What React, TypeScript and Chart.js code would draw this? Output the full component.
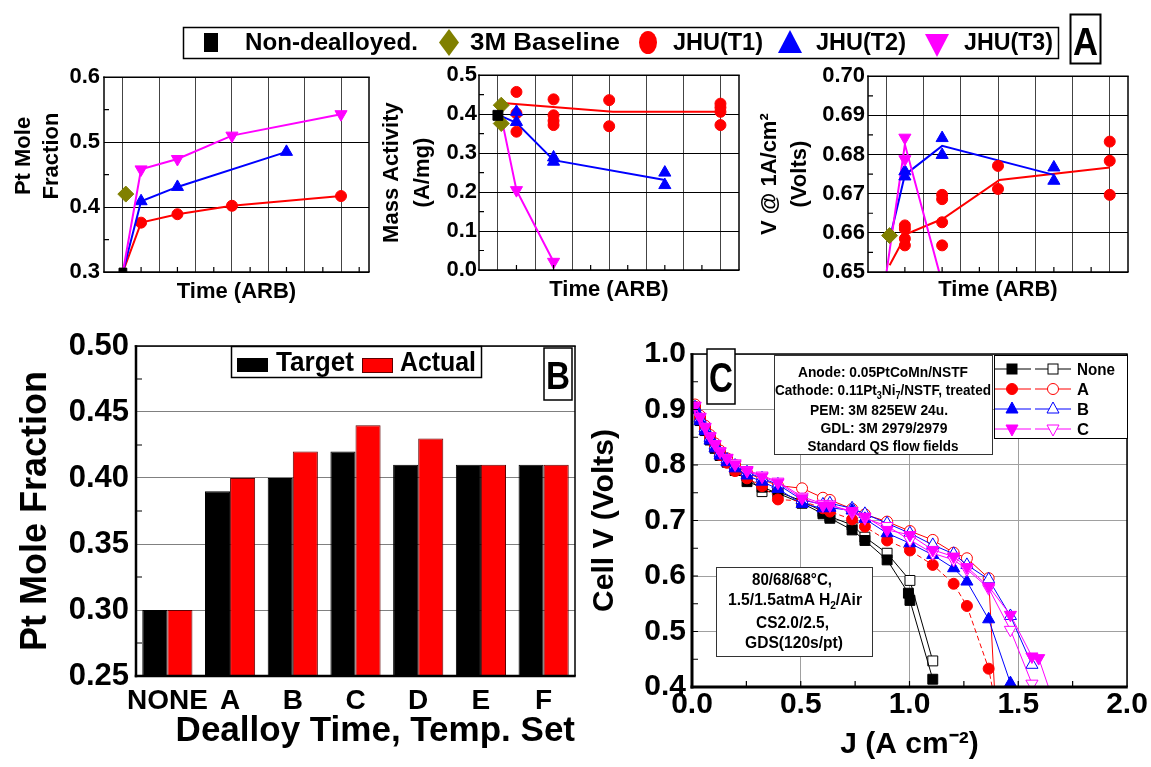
import React, { useEffect, useRef } from 'react';
import { Chart, registerables } from 'chart.js';

Chart.register(...registerables);

const FONT = '"Liberation Sans", Arial, Helvetica, sans-serif';
Chart.defaults.color = '#000';
Chart.defaults.font.family = FONT;

const RED = '#ff0000';
const BLUE = '#0000ff';
const MAGENTA = '#ff00ff';
const OLIVE = '#808000';
const BLACK = '#000000';

// ---------- Panel A, left: Pt mole fraction vs dealloy time ----------
const fracNonX = [0];
const fracNonY = [0.3];
const frac3MX = [0.08];
const frac3MY = [0.42];
const fracT1X = [0, 0.5, 1.5, 3, 6];
const fracT1Y = [0.3, 0.376, 0.389, 0.402, 0.417];
const fracT2X = [0, 0.5, 1.5, 4.5];
const fracT2Y = [0.3, 0.409, 0.431, 0.485];
const fracT3X = [0, 0.5, 1.5, 3, 6];
const fracT3Y = [0.3, 0.458, 0.474, 0.51, 0.543];

// ---------- Panel A, middle: mass activity ----------
const maNonX = [0];
const maNonY = [0.397];
const ma3MX = [0.09, 0.09];
const ma3MY = [0.423, 0.376];
const maT1X = [0.5, 0.5, 0.5, 1.5, 1.5, 1.5, 1.5, 3, 3, 6, 6, 6, 6];
const maT1Y = [0.457, 0.402, 0.355, 0.438, 0.397, 0.383, 0.372, 0.436, 0.369, 0.427, 0.417, 0.406, 0.372];
const maT1LineX = [0.04, 3.1, 6];
const maT1LineY = [0.429, 0.406, 0.406];
const maT2X = [0.5, 0.5, 1.5, 1.5, 4.5, 4.5];
const maT2Y = [0.406, 0.38, 0.289, 0.278, 0.25, 0.218];
const maT2LineX = [0.04, 0.5, 1.5, 4.5];
const maT2LineY = [0.397, 0.378, 0.282, 0.231];
const maT3X = [0.5, 1.5];
const maT3Y = [0.205, 0.021];
const maT3LineX = [0.09, 0.5, 1.5];
const maT3LineY = [0.393, 0.205, 0.021];

// ---------- Panel A, right: cell voltage at 1 A/cm2 ----------
const v3MX = [0.09];
const v3MY = [0.6593];
const vT1X = [0.5, 0.5, 0.5, 0.5, 1.5, 1.5, 1.5, 1.5, 3, 3, 6, 6, 6];
const vT1Y = [0.6619, 0.661, 0.6585, 0.6568, 0.6697, 0.6686, 0.6627, 0.6568, 0.6771, 0.6712, 0.6833, 0.6784, 0.6697];
const vT1LineX = [0.09, 0.54, 1.52, 3.04, 6];
const vT1LineY = [0.6517, 0.6597, 0.6636, 0.6735, 0.6767];
const vT2X = [0.5, 0.5, 1.5, 1.5, 4.5, 4.5];
const vT2Y = [0.6757, 0.6744, 0.6842, 0.6799, 0.6767, 0.6733];
const vT2LineX = [0.13, 0.5, 1.5, 4.5];
const vT2LineY = [0.6599, 0.6748, 0.6822, 0.6748];
const vT3X = [0.5, 0.5];
const vT3Y = [0.6843, 0.6788];
const vT3LineX = [0, 0.5, 1.5];
const vT3LineY = [0.6495, 0.6826, 0.6472];

// ---------- Panel B: target vs actual Pt mole fraction ----------
const dealloySets = ['NONE', 'A', 'B', 'C', 'D', 'E', 'F'];
const targetFrac = [0.3, 0.39, 0.4, 0.42, 0.41, 0.41, 0.41];
const actualFrac = [0.3, 0.4, 0.42, 0.44, 0.43, 0.41, 0.41];

// ---------- Panel C: polarization curves ----------
const noneFilledJ = [0.014, 0.037, 0.06, 0.083, 0.106, 0.129, 0.161, 0.198, 0.253, 0.322, 0.395, 0.506, 0.602, 0.634, 0.736, 0.795, 0.897, 0.995, 1.002, 1.107];
const noneFilledV = [0.902, 0.88, 0.862, 0.845, 0.83, 0.817, 0.805, 0.79, 0.77, 0.76, 0.749, 0.731, 0.712, 0.704, 0.683, 0.664, 0.629, 0.569, 0.556, 0.414];
const noneOpenJ = [0.014, 0.037, 0.06, 0.083, 0.106, 0.129, 0.161, 0.198, 0.253, 0.322, 0.395, 0.506, 0.602, 0.634, 0.736, 0.795, 0.897, 1.002, 1.107];
const noneOpenV = [0.904, 0.882, 0.864, 0.847, 0.833, 0.82, 0.808, 0.795, 0.78, 0.752, 0.752, 0.735, 0.716, 0.707, 0.692, 0.67, 0.641, 0.592, 0.447];
const aFilledJ = [0.014, 0.037, 0.06, 0.083, 0.106, 0.129, 0.161, 0.198, 0.253, 0.322, 0.395, 0.506, 0.602, 0.634, 0.736, 0.795, 0.897, 1.002, 1.107, 1.203, 1.264, 1.364, 1.4];
const aFilledV = [0.905, 0.884, 0.866, 0.849, 0.833, 0.818, 0.804, 0.789, 0.776, 0.762, 0.738, 0.735, 0.722, 0.716, 0.702, 0.689, 0.664, 0.646, 0.62, 0.586, 0.546, 0.433, 0.36];
const aOpenJ = [0.014, 0.037, 0.06, 0.083, 0.106, 0.129, 0.161, 0.198, 0.253, 0.322, 0.395, 0.506, 0.602, 0.634, 0.736, 0.795, 0.897, 1.002, 1.107, 1.203, 1.264, 1.364, 1.397];
const aOpenV = [0.909, 0.889, 0.871, 0.854, 0.839, 0.826, 0.812, 0.8, 0.786, 0.774, 0.763, 0.758, 0.741, 0.737, 0.721, 0.711, 0.698, 0.681, 0.665, 0.642, 0.632, 0.596, 0.35];
const bFilledJ = [0.014, 0.037, 0.06, 0.083, 0.106, 0.129, 0.161, 0.198, 0.253, 0.322, 0.395, 0.506, 0.602, 0.634, 0.736, 0.795, 0.897, 1.002, 1.107, 1.203, 1.264, 1.364, 1.464];
const bFilledV = [0.901, 0.879, 0.861, 0.844, 0.83, 0.817, 0.805, 0.794, 0.781, 0.77, 0.757, 0.73, 0.722, 0.723, 0.718, 0.703, 0.677, 0.659, 0.638, 0.614, 0.59, 0.522, 0.407];
const bOpenJ = [0.014, 0.037, 0.06, 0.083, 0.106, 0.129, 0.161, 0.198, 0.253, 0.322, 0.395, 0.506, 0.602, 0.634, 0.736, 0.795, 0.897, 1.002, 1.107, 1.203, 1.264, 1.364, 1.464, 1.563];
const bOpenV = [0.904, 0.884, 0.866, 0.849, 0.835, 0.822, 0.81, 0.799, 0.787, 0.776, 0.765, 0.737, 0.729, 0.731, 0.722, 0.712, 0.695, 0.677, 0.656, 0.64, 0.62, 0.594, 0.528, 0.44];
const cFilledJ = [0.014, 0.037, 0.06, 0.083, 0.106, 0.129, 0.161, 0.198, 0.253, 0.322, 0.395, 0.506, 0.602, 0.634, 0.736, 0.795, 0.897, 1.002, 1.107, 1.203, 1.264, 1.364, 1.464, 1.563, 1.594, 1.665];
const cFilledV = [0.906, 0.886, 0.868, 0.851, 0.837, 0.824, 0.812, 0.801, 0.789, 0.779, 0.768, 0.74, 0.727, 0.727, 0.717, 0.707, 0.683, 0.674, 0.647, 0.635, 0.616, 0.581, 0.53, 0.455, 0.452, 0.37];
const cOpenJ = [0.014, 0.037, 0.06, 0.083, 0.106, 0.129, 0.161, 0.198, 0.253, 0.322, 0.395, 0.506, 0.602, 0.634, 0.736, 0.795, 0.897, 1.002, 1.107, 1.203, 1.264, 1.364, 1.464, 1.563, 1.62];
const cOpenV = [0.907, 0.887, 0.869, 0.852, 0.838, 0.825, 0.813, 0.803, 0.791, 0.781, 0.77, 0.743, 0.73, 0.729, 0.714, 0.704, 0.69, 0.665, 0.641, 0.629, 0.612, 0.578, 0.503, 0.406, 0.33];

// ---------- helpers ----------
const pts = (xs: number[], ys: number[]) => xs.map((x, i) => ({ x, y: ys[i] }));
const fixW = (w: number) => (s: any) => { s.width = w; };
const fixH = (h: number) => (s: any) => { s.height = h; };
const setTicks = (vals: number[]) => (s: any) => { s.ticks = vals.map((v) => ({ value: v })); };
const bold = (size: number, lineHeight = 1.2) => ({ family: FONT, size, weight: 'bold' as const, lineHeight });

// Draws the plot frame and short inward tick marks.
const framePlugin = {
  id: 'frame',
  afterDatasetsDraw(chart: any, _args: any, o: any) {
    const { ctx, chartArea: a, scales } = chart;
    const len = o.tickLen ?? 5;
    ctx.save();
    ctx.strokeStyle = '#000';
    ctx.lineWidth = o.tickWidth ?? 1.2;
    ctx.beginPath();
    for (const v of o.yTicks ?? []) {
      const p = scales.y.getPixelForValue(v);
      ctx.moveTo(a.left, p);
      ctx.lineTo(a.left + len, p);
    }
    for (const v of o.xTicks ?? []) {
      const p = scales.x.getPixelForValue(v);
      ctx.moveTo(p, a.bottom);
      ctx.lineTo(p, a.bottom - len);
    }
    ctx.stroke();
    const w = { top: 1.5, right: 1.5, bottom: 1.5, left: 1.5, ...(o.sides ?? {}) };
    const edge = (lw: number, x1: number, y1: number, x2: number, y2: number) => {
      ctx.lineWidth = lw;
      ctx.beginPath();
      ctx.moveTo(x1, y1);
      ctx.lineTo(x2, y2);
      ctx.stroke();
    };
    edge(w.top, a.left - w.left / 2, a.top, a.right + w.right / 2, a.top);
    edge(w.right, a.right, a.top, a.right, a.bottom);
    edge(w.bottom, a.left - w.left / 2, a.bottom, a.right + w.right / 2, a.bottom);
    edge(w.left, a.left, a.top - w.top / 2, a.left, a.bottom + w.bottom / 2);
    ctx.restore();
  },
};

const markers = (data: any[], style: string, color: string, radius: number, rotation = 0) => ({
  data,
  showLine: false,
  pointStyle: style,
  pointRotation: rotation,
  pointRadius: radius,
  pointHoverRadius: radius,
  pointBackgroundColor: color,
  pointBorderColor: color,
  pointBorderWidth: 1,
});

const trend = (data: any[], color: string) => ({
  data,
  showLine: true,
  pointRadius: 0,
  pointHoverRadius: 0,
  borderColor: color,
  borderWidth: 2,
  fill: false,
});

// line through the points, with no marker at the shared starting point
const trendWithMarkers = (data: any[], color: string, style: string, radius: number, rotation = 0) => ({
  data,
  showLine: true,
  borderColor: color,
  borderWidth: 2,
  pointStyle: style,
  pointRotation: rotation,
  pointRadius: (c: any) => (c.dataIndex === 0 ? 0 : radius),
  pointHoverRadius: radius,
  pointBackgroundColor: color,
  pointBorderColor: color,
  pointBorderWidth: 1,
});

const halfSteps = [0.5, 1.5, 2.5, 3.5, 4.5, 5.5, 6.5];

function timeChart(p: {
  datasets: any[];
  xMin: number;
  xMax: number;
  yMin: number;
  yMax: number;
  yTicks: number[];
  yMinor: number[];
  digits: number;
  yWidth: number;
  xHeight: number;
  padTop: number;
  padRight: number;
  tickPad: number;
  title: string[] | null;
  titleLH: number;
  titlePad: number;
  xTitlePad: number;
}) {
  return {
    type: 'scatter',
    data: { datasets: p.datasets },
    options: {
      animation: false,
      responsive: false,
      devicePixelRatio: 1,
      events: [],
      layout: { padding: { top: p.padTop, right: p.padRight, left: 0, bottom: 0 } },
      plugins: {
        legend: { display: false },
        tooltip: { enabled: false },
        frame: { yTicks: p.yMinor, xTicks: halfSteps.filter((v) => v < p.xMax), tickLen: 5 },
      },
      scales: {
        x: {
          type: 'linear',
          min: p.xMin,
          max: p.xMax,
          afterBuildTicks: setTicks([0, 1, 2, 3, 4, 5, 6]),
          afterFit: fixH(p.xHeight),
          ticks: { display: false },
          border: { display: false },
          grid: { color: '#444', lineWidth: 1, drawTicks: false },
          title: {
            display: true,
            text: 'Time (ARB)',
            font: bold(22),
            color: '#000',
            padding: { top: 0, bottom: p.xTitlePad },
          },
        },
        y: {
          type: 'linear',
          min: p.yMin,
          max: p.yMax,
          afterBuildTicks: setTicks(p.yTicks),
          afterFit: fixW(p.yWidth),
          ticks: {
            font: bold(22),
            color: '#000',
            padding: p.tickPad,
            callback: (v: any) => Number(v).toFixed(p.digits),
          },
          border: { display: false },
          grid: { color: '#000', lineWidth: 1, drawTicks: false },
          title: p.title
            ? {
                display: true,
                text: p.title,
                font: bold(22, p.titleLH / 22),
                color: '#000',
                padding: { top: p.titlePad, bottom: 0 },
              }
            : { display: false },
        },
      },
    },
    plugins: [framePlugin],
  };
}

const fracConfig = () =>
  timeChart({
    datasets: [
      markers(pts(fracNonX, fracNonY), 'rect', BLACK, 5.5),
      markers(pts(frac3MX, frac3MY), 'rectRot', OLIVE, 8),
      trendWithMarkers(pts(fracT3X, fracT3Y), MAGENTA, 'triangle', 7, 180),
      trendWithMarkers(pts(fracT2X, fracT2Y), BLUE, 'triangle', 7),
      trendWithMarkers(pts(fracT1X, fracT1Y), RED, 'circle', 5.5),
    ],
    xMin: -0.52,
    xMax: 6.77,
    yMin: 0.3,
    yMax: 0.6,
    yTicks: [0.3, 0.4, 0.5, 0.6],
    yMinor: [0.35, 0.45, 0.55],
    digits: 1,
    yWidth: 104,
    xHeight: 38,
    padTop: 16,
    padRight: 5,
    tickPad: 4,
    title: null,
    titleLH: 28,
    titlePad: 0,
    xTitlePad: 5,
  });

const massConfig = () =>
  timeChart({
    datasets: [
      markers(pts(maNonX, maNonY), 'rect', BLACK, 7),
      markers(pts(ma3MX, ma3MY), 'rectRot', OLIVE, 8),
      markers(pts(maT3X, maT3Y), 'triangle', MAGENTA, 7, 180),
      markers(pts(maT2X, maT2Y), 'triangle', BLUE, 7),
      markers(pts(maT1X, maT1Y), 'circle', RED, 5.5),
      trend(pts(maT3LineX, maT3LineY), MAGENTA),
      trend(pts(maT2LineX, maT2LineY), BLUE),
      trend(pts(maT1LineX, maT1LineY), RED),
    ],
    xMin: -0.51,
    xMax: 6.5,
    yMin: 0,
    yMax: 0.5,
    yTicks: [0, 0.1, 0.2, 0.3, 0.4, 0.5],
    yMinor: [0.05, 0.15, 0.25, 0.35, 0.45],
    digits: 1,
    yWidth: 103,
    xHeight: 40,
    padTop: 15,
    padRight: 8,
    tickPad: 2,
    title: ['Mass Activity', '(A/mg)'],
    titleLH: 31.6,
    titlePad: 0,
    xTitlePad: 7,
  });

const voltConfig = () =>
  timeChart({
    datasets: [
      markers(pts(v3MX, v3MY), 'rectRot', OLIVE, 8),
      markers(pts(vT3X, vT3Y), 'triangle', MAGENTA, 7, 180),
      markers(pts(vT2X, vT2Y), 'triangle', BLUE, 7),
      markers(pts(vT1X, vT1Y), 'circle', RED, 5.5),
      trend(pts(vT3LineX, vT3LineY), MAGENTA),
      trend(pts(vT2LineX, vT2LineY), BLUE),
      trend(pts(vT1LineX, vT1LineY), RED),
    ],
    xMin: -0.49,
    xMax: 6.49,
    yMin: 0.65,
    yMax: 0.7,
    yTicks: [0.65, 0.66, 0.67, 0.68, 0.69, 0.7],
    yMinor: [0.655, 0.665, 0.675, 0.685, 0.695],
    digits: 2,
    yWidth: 120,
    xHeight: 38,
    padTop: 15,
    padRight: 23,
    tickPad: 3,
    title: ['V @ 1A/cm\u00b2', '(Volts)'],
    titleLH: 30,
    titlePad: 7,
    xTitlePad: 7,
  });

const barConfig = () => ({
  type: 'bar',
  data: {
    labels: dealloySets,
    datasets: [
      { label: 'Target', data: targetFrac, backgroundColor: BLACK, borderColor: BLACK, borderWidth: 1 },
      { label: 'Actual', data: actualFrac, backgroundColor: RED, borderColor: '#600000', borderWidth: 1 },
    ],
  },
  options: {
    animation: false,
    responsive: false,
    devicePixelRatio: 1,
    events: [],
    datasets: { bar: { categoryPercentage: 0.8, barPercentage: 1 } },
    layout: { padding: { top: 26, right: 10, left: 0, bottom: 0 } },
    plugins: {
      legend: { display: false },
      tooltip: { enabled: false },
      frame: { yTicks: [0.275, 0.325, 0.375, 0.425, 0.475], tickLen: 6, sides: { left: 2.5, bottom: 2.5 } },
    },
    scales: {
      x: {
        afterFit: fixH(91),
        grid: { display: false },
        border: { display: false },
        ticks: { font: bold(28), color: '#000', padding: 0, autoSkip: false, maxRotation: 0, minRotation: 0 },
        title: {
          display: true,
          text: 'Dealloy Time, Temp. Set',
          align: 'end',
          font: bold(35),
          color: '#000',
          padding: { top: 0, bottom: 15 },
        },
      },
      y: {
        min: 0.25,
        max: 0.5,
        afterBuildTicks: setTicks([0.25, 0.3, 0.35, 0.4, 0.45, 0.5]),
        afterFit: fixW(136),
        grid: { color: '#808080', lineWidth: 1, drawTicks: false },
        border: { display: false },
        ticks: { font: bold(31), color: '#000', padding: 7, callback: (v: any) => Number(v).toFixed(2) },
        title: {
          display: true,
          text: 'Pt Mole Fraction',
          font: bold(36),
          color: '#000',
          padding: { top: 14, bottom: 0 },
        },
      },
    },
  },
  plugins: [framePlugin],
});

const pol = (j: number[], v: number[], color: string, style: string, radius: number, open: boolean, dash: number[] = [], rotation = 0) => ({
  data: pts(j, v),
  showLine: true,
  borderColor: color,
  borderWidth: 1,
  borderDash: dash,
  pointStyle: style,
  pointRotation: rotation,
  pointRadius: radius,
  pointHoverRadius: radius,
  pointBackgroundColor: open ? '#ffffff' : color,
  pointBorderColor: color,
  pointBorderWidth: 1,
  clip: 1,
});

const polConfig = () => ({
  type: 'scatter',
  data: {
    datasets: [
      pol(cFilledJ, cFilledV, MAGENTA, 'triangle', 7, false, [], 180),
      pol(cOpenJ, cOpenV, MAGENTA, 'triangle', 7, true, [], 180),
      pol(bFilledJ, bFilledV, BLUE, 'triangle', 7, false),
      pol(bOpenJ, bOpenV, BLUE, 'triangle', 7, true),
      pol(aFilledJ, aFilledV, RED, 'circle', 5.5, false, [5, 3]),
      pol(aOpenJ, aOpenV, RED, 'circle', 5.5, true),
      pol(noneFilledJ, noneFilledV, BLACK, 'rect', 7, false),
      pol(noneOpenJ, noneOpenV, BLACK, 'rect', 7, true),
    ],
  },
  options: {
    animation: false,
    responsive: false,
    devicePixelRatio: 1,
    events: [],
    layout: { padding: { top: 34, right: 24, left: 0, bottom: 0 } },
    plugins: {
      legend: { display: false },
      tooltip: { enabled: false },
      frame: {
        yTicks: [0.45, 0.5, 0.55, 0.6, 0.65, 0.7, 0.75, 0.8, 0.85, 0.9, 0.95],
        xTicks: [0.25, 0.5, 0.75, 1, 1.25, 1.5, 1.75],
        tickLen: 6,
        sides: { left: 3, bottom: 3 },
      },
    },
    scales: {
      x: {
        type: 'linear',
        min: 0,
        max: 2,
        afterBuildTicks: setTicks([0, 0.5, 1, 1.5, 2]),
        afterFit: fixH(80),
        grid: { color: '#a0a0a0', lineWidth: 1, drawTicks: false },
        border: { display: false },
        ticks: { font: bold(30), color: '#000', padding: 0, maxRotation: 0, callback: (v: any) => Number(v).toFixed(1) },
        title: {
          display: true,
          text: 'J (A cm\u207b\u00b2)',
          font: bold(30),
          color: '#000',
          padding: { top: 0, bottom: 4 },
        },
      },
      y: {
        type: 'linear',
        min: 0.4,
        max: 1.0,
        afterBuildTicks: setTicks([0.4, 0.5, 0.6, 0.7, 0.8, 0.9, 1.0]),
        afterFit: fixW(107),
        grid: { color: '#a0a0a0', lineWidth: 1, drawTicks: false },
        border: { display: false },
        ticks: { font: bold(30), color: '#000', padding: 6, callback: (v: any) => Number(v).toFixed(1) },
        title: {
          display: true,
          text: 'Cell V (Volts)',
          font: bold(30),
          color: '#000',
          padding: { top: 2, bottom: 0 },
        },
      },
    },
  },
  plugins: [framePlugin],
});

type Box = { left: number; top: number; width: number; height: number };

function ChartCanvas({ box, make }: { box: Box; make: () => any }) {
  const ref = useRef<HTMLCanvasElement>(null);
  useEffect(() => {
    const chart = new Chart(ref.current as HTMLCanvasElement, make());
    return () => chart.destroy();
  }, []);
  return (
    <canvas
      ref={ref}
      width={box.width}
      height={box.height}
      style={{ position: 'absolute', left: box.left, top: box.top, width: box.width, height: box.height }}
    />
  );
}

const T = (props: any) => <text fontFamily={FONT} fontWeight="bold" fill="#000" lengthAdjust="spacingAndGlyphs" {...props} />;

function LegendMarker({ shape, x, y, color, open }: { shape: string; x: number; y: number; color: string; open: boolean }) {
  const fill = open ? '#fff' : color;
  if (shape === 'square') return <rect x={x - 5} y={y - 5} width={10} height={10} fill={fill} stroke={color} strokeWidth={1} />;
  if (shape === 'circle') return <circle cx={x} cy={y} r={5.5} fill={fill} stroke={color} strokeWidth={1} />;
  if (shape === 'up') return <polygon points={`${x},${y - 7} ${x + 6},${y + 4} ${x - 6},${y + 4}`} fill={fill} stroke={color} strokeWidth={1} />;
  return <polygon points={`${x},${y + 7} ${x + 6},${y - 4} ${x - 6},${y - 4}`} fill={fill} stroke={color} strokeWidth={1} />;
}

const polLegend = [
  { label: 'None', color: BLACK, shape: 'square', y: 369, len: 38 },
  { label: 'A', color: RED, shape: 'circle', y: 389, len: 12 },
  { label: 'B', color: BLUE, shape: 'up', y: 409, len: 12 },
  { label: 'C', color: MAGENTA, shape: 'down', y: 429, len: 12 },
];

function Overlay() {
  return (
    <svg width={1151} height={767} style={{ position: 'absolute', left: 0, top: 0, pointerEvents: 'none' }}>
      {/* shared legend for the three time panels */}
      <rect x={183.5} y={27.5} width={875} height={31} fill="#fff" stroke="#000" strokeWidth={1.5} />
      <rect x={204} y={33} width={14} height={19} fill={BLACK} />
      <T x={245} y={50} fontSize={24} textLength={173}>Non-dealloyed.</T>
      <polygon points="449,29 459,42.5 449,56 439,42.5" fill={OLIVE} />
      <T x={470} y={50} fontSize={24} textLength={150}>3M Baseline</T>
      <ellipse cx={648} cy={42.5} rx={9} ry={11.5} fill={RED} />
      <T x={673} y={50} fontSize={24} textLength={90}>JHU(T1)</T>
      <polygon points="790,30 802,53 778,53" fill={BLUE} />
      <T x={816} y={50} fontSize={24} textLength={90}>JHU(T2)</T>
      <polygon points="937,57 949,34 925,34" fill={MAGENTA} />
      <T x={964} y={50} fontSize={24} textLength={89}>JHU(T3)</T>
      <rect x={1070.5} y={14.5} width={30} height={49} fill="#fff" stroke="#000" strokeWidth={2} />
      <T x={1085.5} y={55} fontSize={38} textAnchor="middle" textLength={25}>A</T>

      {/* y title of the composition panel */}
      <g transform="translate(22,156) rotate(-90)">
        <T x={0} y={8} fontSize={22} textAnchor="middle">Pt Mole</T>
      </g>
      <g transform="translate(50,156) rotate(-90)">
        <T x={0} y={8} fontSize={22} textAnchor="middle">Fraction</T>
      </g>

      {/* bar panel legend and tag */}
      <rect x={231.5} y={346.5} width={250} height={31} fill="#fff" stroke="#000" strokeWidth={1.5} />
      <rect x={237} y={358} width={31} height={14} fill={BLACK} />
      <T x={276} y={371} fontSize={28} textLength={78}>Target</T>
      <rect x={362.5} y={358.5} width={30} height={14} fill={RED} stroke="#600000" strokeWidth={1} />
      <T x={400} y={371} fontSize={28} textLength={76}>Actual</T>
      <rect x={544} y={348} width={28} height={52} fill="#fff" stroke="#000" strokeWidth={1.5} />
      <T x={558} y={389} fontSize={38} textAnchor="middle" textLength={24}>B</T>

      {/* polarization panel tag, notes and legend */}
      <rect x={707} y={349} width={28} height={55} fill="#fff" stroke="#000" strokeWidth={1.5} />
      <T x={721} y={392} fontSize={42} textAnchor="middle" textLength={24}>C</T>

      <rect x={774.5} y={355.5} width={218} height={99} fill="#fff" stroke="#333" strokeWidth={1} />
      <T x={883} y={377} fontSize={15} textAnchor="middle" textLength={170}>Anode: 0.05PtCoMn/NSTF</T>
      <T x={883} y={395} fontSize={15} textAnchor="middle" textLength={216}>
        Cathode: 0.11Pt<tspan dy={4} fontSize={10}>3</tspan>
        <tspan dy={-4}>Ni</tspan>
        <tspan dy={4} fontSize={10}>7</tspan>
        <tspan dy={-4}>/NSTF, treated</tspan>
      </T>
      <T x={879} y={415} fontSize={15} textAnchor="middle" textLength={138}>PEM: 3M 825EW 24u.</T>
      <T x={884} y={433} fontSize={15} textAnchor="middle" textLength={127}>GDL: 3M 2979/2979</T>
      <T x={883} y={451} fontSize={15} textAnchor="middle" textLength={151}>Standard QS flow fields</T>

      <rect x={994.5} y={355.5} width={133} height={83} fill="#fff" stroke="#000" strokeWidth={1} />
      {polLegend.map((r) => (
        <g key={r.label}>
          <line x1={995} y1={r.y} x2={1072} y2={r.y} stroke={r.color} strokeWidth={1} strokeDasharray="16 4" />
          <LegendMarker shape={r.shape} x={1012} y={r.y} color={r.color} open={false} />
          <LegendMarker shape={r.shape} x={1053} y={r.y} color={r.color} open={true} />
          <T x={1077} y={r.y + 6} fontSize={17} textLength={r.len}>{r.label}</T>
        </g>
      ))}

      <rect x={716.5} y={567.5} width={156} height={89} fill="#fff" stroke="#333" strokeWidth={1} />
      <T x={792} y={585} fontSize={17} textAnchor="middle" textLength={80}>80/68/68°C,</T>
      <T x={795} y={605} fontSize={17} textAnchor="middle" textLength={134}>
        1.5/1.5atmA H<tspan dy={4} fontSize={11}>2</tspan>
        <tspan dy={-4}>/Air</tspan>
      </T>
      <T x={792.5} y={628} fontSize={17} textAnchor="middle" textLength={73}>CS2.0/2.5,</T>
      <T x={794} y={648} fontSize={17} textAnchor="middle" textLength={98}>GDS(120s/pt)</T>
    </svg>
  );
}

export default function App() {
  return (
    <div style={{ position: 'absolute', left: 0, top: 0, width: 1151, height: 767, background: '#fff', overflow: 'hidden' }}>
      <ChartCanvas box={{ left: 0, top: 60, width: 378, height: 250 }} make={fracConfig} />
      <ChartCanvas box={{ left: 376, top: 60, width: 372, height: 250 }} make={massConfig} />
      <ChartCanvas box={{ left: 748, top: 60, width: 403, height: 250 }} make={voltConfig} />
      <ChartCanvas box={{ left: 0, top: 320, width: 585, height: 447 }} make={barConfig} />
      <ChartCanvas box={{ left: 585, top: 320, width: 566, height: 447 }} make={polConfig} />
      <Overlay />
    </div>
  );
}
